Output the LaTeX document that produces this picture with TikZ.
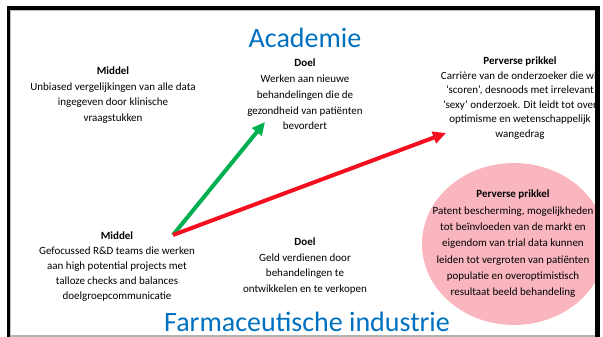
\documentclass[tikz,border=0pt]{standalone}
\usepackage{fontspec}
\setmainfont{Carlito}
\usepackage{tikz}
\usetikzlibrary{arrows.meta}
\definecolor{titelblauw}{RGB}{0,112,192}
\definecolor{prikkelroze}{RGB}{249,182,190}
\definecolor{pijlgroen}{RGB}{0,176,80}
\definecolor{pijlrood}{RGB}{245,15,30}

\begin{document}
\begin{tikzpicture}[x=1pt, y=-1pt,
  kop/.style={font=\fontsize{28}{30}\selectfont, text=titelblauw, inner sep=0pt}, % titels
  blok/.style={align=center, inner sep=0pt, anchor=north, font=\fontsize{11}{#1}\selectfont}, % tekstblokken
  pijl/.style={line width=4pt, -{Triangle[length=13pt,width=12pt]}}] % pijlen
  \useasboundingbox (0,0) rectangle (603,337);

  \begin{scope}
    \clip (10,10) rectangle (595,335); % binnenkant van het kader
    \fill[prikkelroze] (514,244) ellipse [x radius=92, y radius=81]; % roze cirkel
    \node[blok=14.5] (prikkelA) at (520,57) {\textbf{Perverse prikkel}\\Carrière van de onderzoeker die wil\\‘scoren’, desnoods met irrelevant\\‘sexy’ onderzoek. Dit leidt tot over\\optimisme en wetenschappelijk\\wangedrag};
  \end{scope}

  \node[kop] (academie) at (305,38) {Academie};
  \node[kop, anchor=base] (industrie) at (307,331) {Farmaceutische industrie};

  \node[blok=15.5] (middelA) at (113,67) {\textbf{Middel}\\Unbiased vergelijkingen van alle data\\ingegeven door klinische\\vraagstukken};
  \node[blok=15.7] (doelA) at (305,59) {\textbf{Doel}\\Werken aan nieuwe\\behandelingen die de\\gezondheid van patiënten\\bevordert};
  \node[blok=15] (middelF) at (117,232) {\textbf{Middel}\\Gefocussed R\&D teams die werken\\aan high potential projects met\\talloze checks and balances\\doelgroepcommunicatie};
  \node[blok=15.5] (doelF) at (305,238) {\textbf{Doel}\\Geld verdienen door\\behandelingen te\\ontwikkelen en te verkopen};
  \node[blok=16.3] (prikkelF) at (513,190) {\textbf{Perverse prikkel}\\Patent bescherming, mogelijkheden\\tot beïnvloeden van de markt en\\eigendom van trial data kunnen\\leiden tot vergroten van patiënten\\populatie en overoptimistisch\\resultaat beeld behandeling};

  \coordinate (bron) at (173,235); % beginpunt pijlen
  \coordinate (naardoel) at (265,122);
  \coordinate (naarprikkel) at (446,133);
  \draw[pijl, pijlgroen] (bron) -- (naardoel);
  \draw[pijl, pijlrood] (bron) -- (naarprikkel);

  % kader
  \draw[gray!60, line width=2pt] (7,336) -- (600,336);
  \draw[gray!50, line width=0.8pt] (10.5,337) -- (10.5,10.5) -- (595,10.5);
  \draw[black, line width=4pt] (7,8) -- (600,8);
  \draw[black, line width=3pt] (8.5,6) -- (8.5,337);
  \draw[black, line width=5pt] (597.5,6) -- (597.5,337);
\end{tikzpicture}
\end{document}
